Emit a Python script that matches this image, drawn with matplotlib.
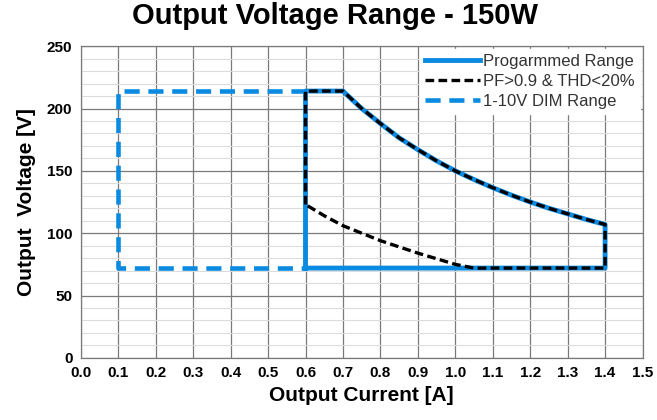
import matplotlib.pyplot as plt
import numpy as np

plt.rcParams['font.family'] = ['Liberation Sans', 'DejaVu Sans']

# Programmed range (solid blue)
prog_i = [0.6, 0.6, 0.7, 0.75, 0.8, 0.85, 0.9, 0.95, 1.0, 1.05, 1.1, 1.15, 1.2, 1.25, 1.3, 1.35, 1.4, 1.4, 0.6]
prog_v = [72, 214, 214, 200, 188, 176.5, 167, 158, 150, 143, 136.5, 130.5, 125, 120, 115.5, 111, 107, 72, 72]

# PF>0.9 & THD<20% (black dashed)
pf_i = [0.6, 0.6, 0.7, 0.75, 0.8, 0.85, 0.9, 0.95, 1.0, 1.05, 1.1, 1.15, 1.2, 1.25, 1.3, 1.35, 1.4, 1.4,
        1.05, 1.0, 0.95, 0.9, 0.85, 0.8, 0.75, 0.7, 0.65, 0.6]
pf_v = [123, 214, 214, 200, 188, 176.5, 167, 158, 150, 143, 136.5, 130.5, 125, 120, 115.5, 111, 107, 72,
        72, 75, 79.5, 84, 89, 94, 100, 106, 114, 123]

# 1-10V DIM range (blue dashed)
dim_i = [0.6, 0.1, 0.1, 0.6]
dim_v = [214, 214, 72, 72]

blue = '#0A8AE0'

fig = plt.figure(figsize=(6.57, 4.2), dpi=100)
ax = fig.add_axes([0.123, 0.148, 0.855, 0.742])

ax.plot(dim_i, dim_v, color=blue, lw=3.3, dashes=(3.3, 1.9), label='1-10V DIM Range', zorder=3)
ax.plot(prog_i, prog_v, color=blue, lw=3.5, label='Progarmmed Range', zorder=4,
        solid_joinstyle='round')
ax.plot(pf_i, pf_v, color='black', lw=2.4, dashes=(2.6, 1.3), label='PF>0.9 & THD<20%', zorder=5,
        dash_joinstyle='round')

ax.set_xlim(0, 1.5)
ax.set_ylim(0, 250)
ax.set_xticks(np.arange(0, 1.51, 0.1))
ax.set_xticklabels([f'{x:.1f}' for x in np.arange(0, 1.51, 0.1)])
ax.set_yticks(np.arange(0, 251, 50))
ax.set_yticks(np.arange(0, 251, 10), minor=True)
ax.grid(True, which='major', color='#7a7a7a', lw=0.9)
ax.grid(True, which='minor', axis='y', color='#dcdcdc', lw=0.8)
ax.set_axisbelow(True)
ax.tick_params(which='both', length=0, pad=6)
for lab in ax.get_xticklabels() + ax.get_yticklabels():
    lab.set_fontweight('bold')
    lab.set_fontsize(11)
for s in ax.spines.values():
    s.set_color('#7a7a7a')
    s.set_linewidth(0.9)

ax.set_xlabel('Output Current [A]', fontsize=15, fontweight='bold', labelpad=4)
ax.set_ylabel('Output  Voltage [V]', fontsize=15, fontweight='bold', labelpad=8)
fig.suptitle('Output Voltage Range - 150W', fontsize=21, fontweight='bold', x=0.51, y=0.995)

h, l = ax.get_legend_handles_labels()
order = [1, 2, 0]
leg = ax.legend([h[i] for i in order], [l[i] for i in order], loc='upper right',
                frameon=True, fancybox=False, framealpha=1, edgecolor='white',
                fontsize=12, handlelength=3.3, handletextpad=0.2,
                borderaxespad=0.15, labelspacing=0.3, borderpad=0.3)
for t in leg.get_texts():
    t.set_color('#333333')

fig.savefig('out.png', dpi=100)
